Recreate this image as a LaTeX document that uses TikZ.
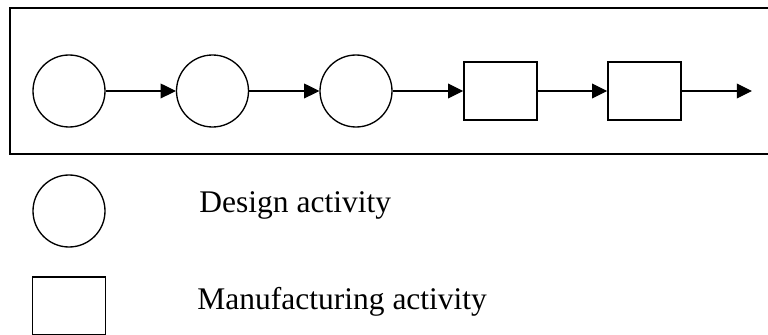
\documentclass[tikz,border=0pt]{standalone}
\usepackage{fontspec}
\setmainfont{Liberation Serif}
\usetikzlibrary{arrows.meta,positioning}

\begin{document}
\begin{tikzpicture}[
  design/.style={draw, circle, line width=0.95pt, minimum size=1.8cm, inner sep=0pt},
  manuf/.style={draw, rectangle, line width=0.95pt, minimum width=1.825cm,
    minimum height=1.45cm, inner sep=0pt},
  arrow/.style={-{Triangle[length=0.38cm,width=0.37cm]}, line width=0.8pt},
  legend/.style={font=\fontsize{22.4}{26}\selectfont, anchor=base west, inner sep=0pt},
]
\useasboundingbox (0,0) rectangle (19.2,8.375);

% Process frame
\draw[line width=1.5pt] (0.25,4.525) rectangle (19.4,8.175);

% Activity chain
\def\yrow{6.1}
\node[design] (d1) at (1.725, \yrow) {};
\node[design] (d2) at (5.3125, \yrow) {};
\node[design] (d3) at (8.9, \yrow) {};
\node[manuf] (m1) at (12.51, \yrow) {};
\node[manuf] (m2) at (16.11, \yrow) {};
\coordinate (out) at (18.8, \yrow);

\draw[arrow] (d1) -- (d2);
\draw[arrow] (d2) -- (d3);
\draw[arrow] (d3) -- (m1);
\draw[arrow] (m1) -- (m2);
\draw[arrow] (m2) -- (out);

% Legend
\node[design] (ldesign) at (1.725, 3.1) {};
\node[legend] (tdesign) at (4.98, 3.05) {Design activity};
\node[manuf] (lmanuf) at (1.725, 0.725) {};
\node[legend] (tmanuf) at (4.93, 0.625) {Manufacturing activity};

\end{tikzpicture}
\end{document}
